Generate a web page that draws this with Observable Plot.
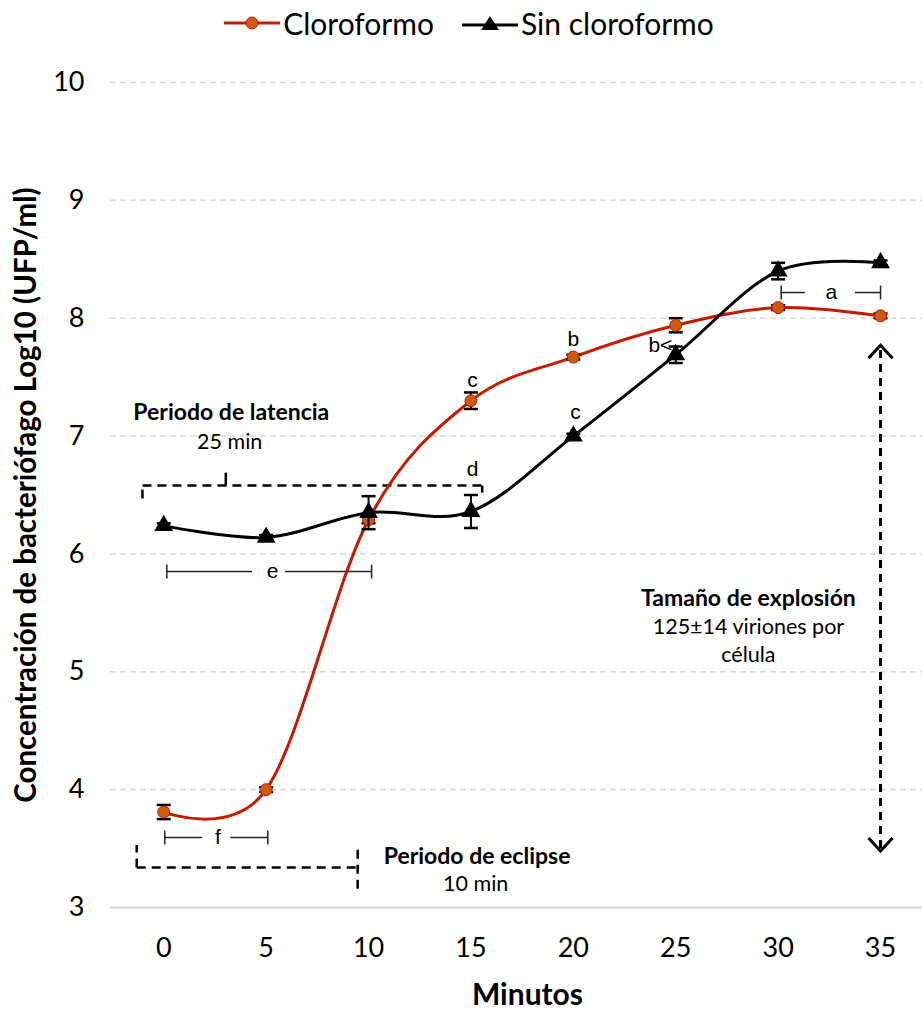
<!DOCTYPE html>
<html><head><meta charset="utf-8">
<script src="https://cdn.jsdelivr.net/npm/d3@7"></script>
<script src="https://cdn.jsdelivr.net/npm/@observablehq/plot@0.6"></script>
<style>
body{margin:0;background:#fff;font-family:Lato,"Open Sans",sans-serif;}
#legend{height:45px;display:flex;align-items:center;justify-content:center;font-size:30px;color:#000;padding-left:16px;box-sizing:border-box;}
#legend .item{display:flex;align-items:center;margin:0 14px;}
#legend svg{margin-right:3px;}
</style></head><body>
<div id="legend">
  <div class="item"><svg width="56" height="20"><line x1="0" y1="10" x2="56" y2="10" stroke="#c41a00" stroke-width="3"/><circle cx="28" cy="10" r="6" fill="#cc5a12" stroke="#c41a00" stroke-width="1"/></svg><span>Cloroformo</span></div>
  <div class="item"><svg width="56" height="20"><line x1="0" y1="12" x2="56" y2="12" stroke="#000" stroke-width="3"/><path d="M28,3 L37,17 L19,17 Z" fill="#000"/></svg><span>Sin cloroformo</span></div>
</div>
<div id="chart"></div>
<script>
// ---- data ----
const minutes = [0, 5, 10, 15, 20, 25, 30, 35];
const cloroformo = [3.81, 4.00, 6.29, 7.30, 7.67, 7.94, 8.09, 8.02];
const cloroformoErr = [0.06, 0.02, 0.03, 0.07, 0.02, 0.06, 0.02, 0.02];
const sinCloroformo = [6.24, 6.14, 6.35, 6.36, 7.00, 7.69, 8.40, 8.47];
const sinCloroformoErr = [0.02, 0.02, 0.14, 0.14, 0.02, 0.07, 0.07, 0.02];
const xTicks = [0, 5, 10, 15, 20, 25, 30, 35];
const yTicks = [3, 4, 5, 6, 7, 8, 9, 10];
const gridTicks = [4, 5, 6, 7, 8, 9, 10];

// ---- annotations (in data units) ----
const letters = [
  {x: 15.08, y: 7.47, t: "c"},
  {x: 15.08, y: 6.72, t: "d"},
  {x: 20.0, y: 7.82, t: "b"},
  {x: 20.1, y: 7.20, t: "c"},
  {x: 24.25, y: 7.77, t: "b<"}
];
const brackets = [
  {x1: 0.15, x2: 10.15, y: 5.85, g1: 4.34, g2: 5.95, t: "e", tx: 5.32},
  {x1: 0.05, x2: 5.08, y: 3.594, g1: 1.90, g2: 3.27, t: "f", tx: 2.65},
  {x1: 30.15, x2: 35.0, y: 8.218, g1: 31.33, g2: 33.77, t: "a", tx: 32.6}
];
const dashedSegments = [
  {x1: -1.04, y1: 6.58, x2: 15.55, y2: 6.58},
  {x1: -1.04, y1: 6.47, x2: -1.04, y2: 6.58},
  {x1: 15.55, y1: 6.52, x2: 15.55, y2: 6.58},
  {x1: -1.32, y1: 3.34, x2: 9.45, y2: 3.34},
  {x1: -1.32, y1: 3.34, x2: -1.32, y2: 3.53},
  {x1: 9.47, y1: 3.16, x2: 9.47, y2: 3.54}
];
const solidSegments = [
  {x1: 3.03, y1: 6.58, x2: 3.03, y2: 6.69}
];
const boldNotes = [
  {x: 3.3, y: 7.20, t: "Periodo de latencia"},
  {x: 15.3, y: 3.43, t: "Periodo de eclipse"},
  {x: 28.55, y: 5.62, t: "Tamaño de explosión"}
];
const plainNotes = [
  {x: 3.22, y: 6.95, t: "25 min"},
  {x: 15.23, y: 3.20, t: "10 min"},
  {x: 28.55, y: 5.38, t: "125±14 viriones por"},
  {x: 28.55, y: 5.14, t: "célula"}
];
const burstArrow = {x: 35, yTop: 7.77, yBottom: 3.48};

// ---- tables built from arrays ----
const red = minutes.map((m, i) => ({x: m, y: cloroformo[i], e: cloroformoErr[i]}));
const blk = minutes.map((m, i) => ({x: m, y: sinCloroformo[i], e: sinCloroformoErr[i]}));
const bracketSegs = brackets.flatMap(b => [{x1: b.x1, x2: b.g1, y: b.y}, {x1: b.g2, x2: b.x2, y: b.y}]);
const bracketEnds = brackets.flatMap(b => [{x: b.x1, y: b.y}, {x: b.x2, y: b.y}]);
const capsOf = arr => arr.flatMap(d => [{x: d.x, y: d.y - d.e}, {x: d.x, y: d.y + d.e}]);

// ---- custom symbols ----
const hCap = {draw(ctx) { ctx.moveTo(-7, 0); ctx.lineTo(7, 0); }};
const vTick = {draw(ctx) { ctx.moveTo(0, -7); ctx.lineTo(0, 7); }};
const chevDown = {draw(ctx) { ctx.moveTo(-12, -13); ctx.lineTo(0, 0); ctx.lineTo(12, -13); }};
const chevUp = {draw(ctx) { ctx.moveTo(-12, 13); ctx.lineTo(0, 0); ctx.lineTo(12, 13); }};

const RED = "#c41a00", ORANGE = "#cc5a12";
const FONT = "Lato, 'Open Sans', sans-serif";
const LETTER_FONT = "'Liberation Sans', Arial, sans-serif";

const chart = Plot.plot({
  width: 922, height: 967,
  marginTop: 37, marginBottom: 105, marginLeft: 110, marginRight: 0,
  x: {domain: [-2.6, 37.05]},
  y: {domain: [3, 10]},
  style: {fontFamily: FONT, background: "#fff", color: "#000", overflow: "visible"},
  marks: [
    Plot.gridY(gridTicks, {stroke: "#d9d9d9", strokeOpacity: 1, strokeWidth: 1.6, strokeDasharray: "6,4"}),
    Plot.ruleY([3], {stroke: "#d4d4d4", strokeWidth: 2.2}),
    Plot.axisY({ticks: yTicks, tickSize: 0, tickPadding: 26, fontSize: 27, label: null, tickFormat: d => d}),
    Plot.axisX({ticks: xTicks, tickSize: 0, tickPadding: 30, fontSize: 27, label: null, tickFormat: d => d}),
    Plot.text(["Minutos"], {frameAnchor: "bottom", dy: 97, dx: 11, fontSize: 30, fontWeight: "bold", fontFamily: FONT}),
    Plot.text(["Concentración de bacteriófago Log10 (UFP/ml)"], {frameAnchor: "left", textAnchor: "middle", rotate: -90, dx: -84, fontSize: 29.5, fontWeight: "bold", fontFamily: FONT}),

    // annotations: dashed brackets
    Plot.link(dashedSegments, {x1: "x1", y1: "y1", x2: "x2", y2: "y2", stroke: "#000", strokeWidth: 2.5, strokeDasharray: "9,6"}),
    Plot.link(solidSegments, {x1: "x1", y1: "y1", x2: "x2", y2: "y2", stroke: "#000", strokeWidth: 2.5}),
    Plot.ruleX([burstArrow], {x: "x", y1: d => d.yBottom + 0.02, y2: d => d.yTop - 0.02, stroke: "#000", strokeWidth: 3, strokeDasharray: "8,6"}),
    Plot.dot([burstArrow], {x: "x", y: "yBottom", symbol: chevDown, fill: "none", stroke: "#000", strokeWidth: 3}),
    Plot.dot([burstArrow], {x: "x", y: "yTop", symbol: chevUp, fill: "none", stroke: "#000", strokeWidth: 3}),

    // significance brackets
    Plot.ruleY(bracketSegs, {x1: "x1", x2: "x2", y: "y", stroke: "#222", strokeWidth: 1.5}),
    Plot.dot(bracketEnds, {x: "x", y: "y", symbol: vTick, fill: "none", stroke: "#222", strokeWidth: 1.5}),
    Plot.text(brackets, {x: "tx", y: "y", text: "t", fontSize: 21, fontFamily: LETTER_FONT, fill: "#000"}),
    Plot.text(letters, {x: "x", y: "y", text: "t", fontSize: 21, fontFamily: LETTER_FONT, fill: "#000"}),

    // notes
    Plot.text(boldNotes, {x: "x", y: "y", text: "t", fontSize: 23, fontWeight: "bold", fontFamily: FONT, fill: "#000"}),
    Plot.text(plainNotes, {x: "x", y: "y", text: "t", fontSize: 21.5, fontFamily: FONT, fill: "#000"}),

    // series
    Plot.line(red, {x: "x", y: "y", stroke: RED, strokeWidth: 3, curve: "cardinal"}),
    Plot.ruleX(red, {x: "x", y1: d => d.y - d.e, y2: d => d.y + d.e, stroke: "#000", strokeWidth: 2}),
    Plot.dot(capsOf(red), {x: "x", y: "y", symbol: hCap, fill: "none", stroke: "#000", strokeWidth: 2.5}),
    Plot.dot(red, {x: "x", y: "y", r: 6, fill: ORANGE, stroke: RED, strokeWidth: 1}),
    Plot.line(blk, {x: "x", y: "y", stroke: "#000", strokeWidth: 3, curve: "cardinal"}),
    Plot.ruleX(blk, {x: "x", y1: d => d.y - d.e, y2: d => d.y + d.e, stroke: "#000", strokeWidth: 2}),
    Plot.dot(capsOf(blk), {x: "x", y: "y", symbol: hCap, fill: "none", stroke: "#000", strokeWidth: 2.5}),
    Plot.dot(blk, {x: "x", y: "y", r: 7, symbol: "triangle", fill: "#000", stroke: "none"})
  ]
});
document.getElementById("chart").appendChild(chart);
</script>
</body></html>
